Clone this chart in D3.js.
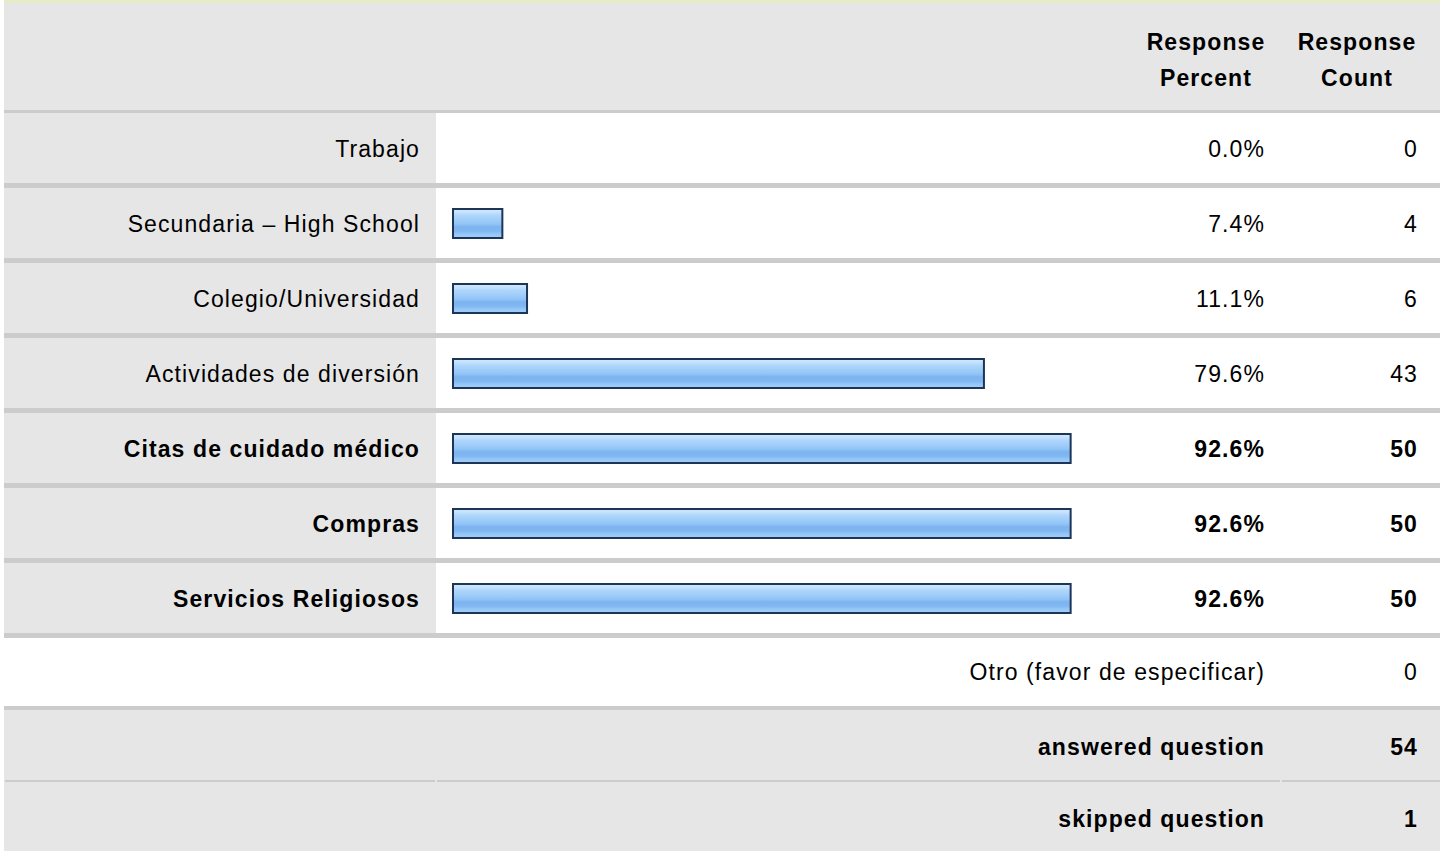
<!DOCTYPE html>
<html lang="es">
<head>
<meta charset="UTF-8">
<title>Response table</title>
<script src="https://cdn.jsdelivr.net/npm/d3@7"></script>
<style>
    body { margin: 0; background: #fff; }
    svg { display: block; }
    text { font-family: "Liberation Sans", Arial, Helvetica, sans-serif; font-size: 23px; fill: #000; letter-spacing: 1.1px; }
    .bold { font-weight: bold; }
</style>
</head>
<body>
<script>
    // datos
    var categories = ["Trabajo", "Secundaria \u2013 High School", "Colegio/Universidad",
        "Actividades de diversi\u00f3n", "Citas de cuidado m\u00e9dico", "Compras", "Servicios Religiosos"];
    var percents = [0.0, 7.4, 11.1, 79.6, 92.6, 92.6, 92.6];
    var counts = [0, 4, 6, 43, 50, 50, 50];
    var headerLines = [["Response", "Percent"], ["Response", "Count"]];
    var otherLabel = "Otro (favor de especificar)";
    var otherCount = 0;
    var summaryLabels = ["answered question", "skipped question"];
    var summaryCounts = [54, 1];

    var width = 1440, height = 851;
    var left = 4, labelW = 436, pctRight = 1264, cntRight = 1417;

    var svg = d3.select("body").append("svg")
        .attr("width", width)
        .attr("height", height);

    // degradado de las barras, en franjas
    var defs = svg.append("defs");
    var grad = defs.append("linearGradient")
        .attr("id", "barGrad")
        .attr("x1", 0).attr("y1", 0).attr("x2", 0).attr("y2", 1);
    [[0, "#d2e8fd"], [0.12, "#c4e1fc"], [0.22, "#aed6fb"], [0.38, "#9fcdf9"],
     [0.52, "#91c4f7"], [0.62, "#7db3ef"], [0.76, "#80b7f1"], [0.86, "#93c6f7"], [1, "#a4cff9"]]
        .forEach(function (s) {
            grad.append("stop").attr("offset", s[0]).attr("stop-color", s[1]);
        });

    // borde superior
    svg.append("rect").attr("x", left).attr("y", 0).attr("width", width - left).attr("height", 3)
        .attr("fill", "#e6ecc6");

    // cabecera
    svg.append("rect").attr("x", left).attr("y", 3).attr("width", width - left).attr("height", 107)
        .attr("fill", "#e6e6e6");
    svg.append("rect").attr("x", left).attr("y", 110).attr("width", width - left).attr("height", 3)
        .attr("fill", "#cccccc");

    var headCenters = [1206, 1357];
    headerLines.forEach(function (lines, i) {
        lines.forEach(function (t, j) {
            svg.append("text").attr("class", "bold")
                .attr("x", headCenters[i]).attr("y", 50 + j * 36)
                .attr("text-anchor", "middle")
                .text(t);
        });
    });

    // filas
    var y = d3.scaleBand()
        .domain(categories)
        .range([113, 113 + categories.length * 75]);

    var x = d3.scaleLinear()
        .domain([0, 100])
        .range([453, 1120]);

    var maxPct = d3.max(percents);

    var rows = svg.selectAll(".row")
        .data(categories)
        .enter()
        .append("g")
        .attr("class", "row")
        .attr("transform", function (d) { return "translate(0," + y(d) + ")"; });

    rows.append("rect")
        .attr("x", left).attr("y", 0)
        .attr("width", labelW - left).attr("height", 70)
        .attr("fill", "#e6e6e6");

    rows.append("rect")
        .attr("x", left).attr("y", 70)
        .attr("width", width - left).attr("height", 5)
        .attr("fill", "#cccccc");

    rows.filter(function (d, i) { return percents[i] > 0; })
        .append("rect")
        .attr("x", x(0))
        .attr("y", 21)
        .attr("width", function (d) { return x(percents[categories.indexOf(d)]) - x(0); })
        .attr("height", 29)
        .attr("fill", "url(#barGrad)")
        .attr("stroke", "#1d3557")
        .attr("stroke-width", 2);

    function isMax(i) { return percents[i] === maxPct; }

    rows.append("text")
        .attr("class", function (d, i) { return isMax(i) ? "bold" : null; })
        .attr("x", 420).attr("y", 36).attr("dy", "0.35em")
        .attr("text-anchor", "end")
        .text(function (d) { return d; });

    rows.append("text")
        .attr("class", function (d, i) { return isMax(i) ? "bold" : null; })
        .attr("x", pctRight + 1).attr("y", 36).attr("dy", "0.35em")
        .attr("text-anchor", "end")
        .text(function (d, i) { return percents[i].toFixed(1) + "%"; });

    rows.append("text")
        .attr("class", function (d, i) { return isMax(i) ? "bold" : null; })
        .attr("x", cntRight + 1).attr("y", 36).attr("dy", "0.35em")
        .attr("text-anchor", "end")
        .text(function (d, i) { return counts[i]; });

    // fila "Otro"
    var oy = 113 + categories.length * 75;
    svg.append("text")
        .attr("x", pctRight + 1).attr("y", oy + 34).attr("dy", "0.35em")
        .attr("text-anchor", "end").text(otherLabel);
    svg.append("text")
        .attr("x", cntRight + 1).attr("y", oy + 34).attr("dy", "0.35em")
        .attr("text-anchor", "end").text(otherCount);
    svg.append("rect").attr("x", left).attr("y", oy + 68).attr("width", width - left).attr("height", 4)
        .attr("fill", "#cccccc");

    // resumen
    var sy = oy + 72;
    var sumTops = [sy, sy + 72];
    svg.append("rect").attr("x", left).attr("y", sy).attr("width", width - left).attr("height", height - sy)
        .attr("fill", "#e6e6e6");
    [[left + 1, labelW - 1], [labelW + 1, 1280], [1282, width]].forEach(function (seg) {
        svg.append("rect").attr("x", seg[0]).attr("y", sy + 70).attr("width", seg[1] - seg[0]).attr("height", 2)
            .attr("fill", "#cccccc");
    });
    summaryLabels.forEach(function (t, i) {
        svg.append("text").attr("class", "bold")
            .attr("x", pctRight + 1).attr("y", sumTops[i] + 37).attr("dy", "0.35em")
            .attr("text-anchor", "end").text(t);
        svg.append("text").attr("class", "bold")
            .attr("x", cntRight + 1).attr("y", sumTops[i] + 37).attr("dy", "0.35em")
            .attr("text-anchor", "end").text(summaryCounts[i]);
    });
</script>
</body>
</html>
